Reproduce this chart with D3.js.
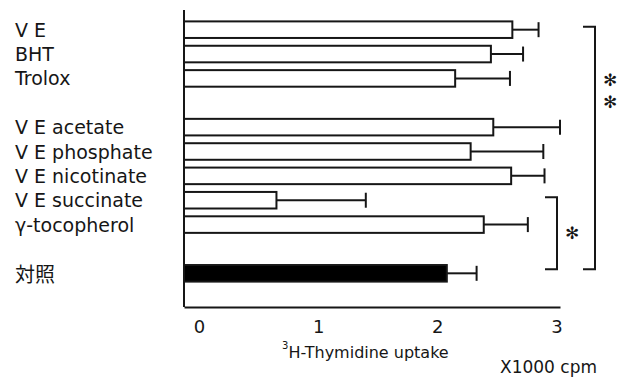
<!DOCTYPE html>
<html>
<head>
<meta charset="utf-8">
<script src="https://cdn.jsdelivr.net/npm/d3@7"></script>
<style>
  body { margin: 0; background: #fff; }
  svg { display: block; }
</style>
</head>
<body>
<div id="canvas"></div>
<script>
"use strict"

/* Data */
let categories = ["V E", "BHT", "Trolox", "V E acetate", "V E phosphate",
    "V E nicotinate", "V E succinate", "γ-tocopherol", "対照"];
let means  = [2.63, 2.45, 2.15, 2.47, 2.28, 2.62, 0.65, 2.39, 2.08];
let errors = [0.22, 0.27, 0.46, 0.56, 0.61, 0.28, 0.75, 0.37, 0.25];
// row order with two blank rows between the groups
let rowOrder = ["V E", "BHT", "Trolox", "_gap1", "V E acetate", "V E phosphate",
    "V E nicotinate", "V E succinate", "γ-tocopherol", "_gap2", "対照"];
let xTicks = [0, 1, 2, 3];
let controlName = "対照";
let bracketFrom = ["V E", "V E succinate"];
let bracketTo = ["対照", "対照"];
let bracketStars = [2, 1];

/* Drawing config */
let svgWidth = 631;
let svgHeight = 377;
let axisX = 184;
let axisTop = 10;
let axisBottomY = 307;
let ink = "#161616";

let svg = d3.select("#canvas")
    .append("svg")
    .attr("width", svgWidth)
    .attr("height", svgHeight);

svg.append("rect")
    .attr("width", svgWidth)
    .attr("height", svgHeight)
    .attr("fill", "#fff");

let dataset = categories.map(function(c, i) {
    return { name: c, mean: means[i], err: errors[i] };
});

// X scale: bars start at the axis line, which sits slightly left of the "0" label
let xScale = d3.scaleLinear()
    .domain([-0.126, 3.03])
    .range([axisX, 560]);

let yScale = d3.scaleBand()
    .domain(rowOrder)
    .range([17.5, 285.5])
    .paddingInner(0.32)
    .paddingOuter(0.16);

let bw = yScale.bandwidth();
let x0 = xScale(xScale.domain()[0]);

/* Bars */
svg.selectAll("rect.bar")
    .data(dataset)
    .join("rect")
    .attr("class", "bar")
    .attr("x", x0)
    .attr("y", function(d) { return yScale(d.name); })
    .attr("width", function(d) { return xScale(d.mean) - x0; })
    .attr("height", bw)
    .attr("fill", function(d) { return d.name === controlName ? "#000" : "#fff"; })
    .attr("stroke", ink)
    .attr("stroke-width", 2);

/* Error bars */
svg.selectAll("line.err")
    .data(dataset)
    .join("line")
    .attr("class", "err")
    .attr("x1", function(d) { return xScale(d.mean); })
    .attr("x2", function(d) { return xScale(d.mean + d.err); })
    .attr("y1", function(d) { return yScale(d.name) + bw / 2; })
    .attr("y2", function(d) { return yScale(d.name) + bw / 2; })
    .attr("stroke", ink)
    .attr("stroke-width", 2);

svg.selectAll("line.cap")
    .data(dataset)
    .join("line")
    .attr("class", "cap")
    .attr("x1", function(d) { return xScale(d.mean + d.err); })
    .attr("x2", function(d) { return xScale(d.mean + d.err); })
    .attr("y1", function(d) { return yScale(d.name) + bw / 2 - 7.5; })
    .attr("y2", function(d) { return yScale(d.name) + bw / 2 + 7.5; })
    .attr("stroke", ink)
    .attr("stroke-width", 2);

/* Axes */
svg.append("line")
    .attr("x1", axisX).attr("x2", axisX)
    .attr("y1", axisTop).attr("y2", axisBottomY)
    .attr("stroke", ink)
    .attr("stroke-width", 2);

let xAxis = svg.append("g")
    .attr("transform", "translate(0," + axisBottomY + ")")
    .call(d3.axisBottom(xScale)
        .tickValues(xTicks)
        .tickFormat(d3.format("d"))
        .tickSize(0)
        .tickPadding(13));

xAxis.select(".domain")
    .attr("stroke", ink)
    .attr("stroke-width", 2);

xAxis.selectAll("text")
    .style("font-family", "DejaVu Sans")
    .style("font-size", "18px")
    .attr("fill", ink);

/* Category labels */
svg.selectAll("text.cat")
    .data(dataset)
    .join("text")
    .attr("class", "cat")
    .attr("x", 15)
    .attr("y", function(d) { return yScale(d.name) + bw / 2; })
    .attr("dominant-baseline", "central")
    .style("font-family", function(d) {
        return d.name === controlName ? "Noto Sans CJK JP" : "DejaVu Sans";
    })
    .style("font-size", function(d) { return d.name === controlName ? "20px" : "19px"; })
    .attr("fill", ink)
    .text(function(d) { return d.name; });

/* Axis title */
let title = svg.append("text")
    .attr("x", 282)
    .attr("y", 358)
    .style("font-family", "DejaVu Sans")
    .style("font-size", "16px")
    .attr("fill", ink);
title.append("tspan")
    .attr("dy", -9)
    .style("font-size", "10px")
    .text("3");
title.append("tspan")
    .attr("dy", 9)
    .text("H-Thymidine uptake");

svg.append("text")
    .attr("x", 500)
    .attr("y", 373)
    .style("font-family", "DejaVu Sans")
    .style("font-size", "17px")
    .attr("fill", ink)
    .text("X1000 cpm");

/* Significance brackets */
let bracketRight = [595, 557];
let bracketWidth = 12;
let starGap = 22;
for (let i = 0; i < bracketFrom.length; i++) {
    let yTop = yScale(bracketFrom[i]) + bw / 2 - 3;
    let yBot = yScale(bracketTo[i]) + bw / 2 - 4;
    let xr = bracketRight[i];
    svg.append("path")
        .attr("d", "M" + (xr - bracketWidth) + "," + yTop + "H" + xr + "V" + yBot + "H" + (xr - bracketWidth))
        .attr("fill", "none")
        .attr("stroke", ink)
        .attr("stroke-width", 2);

    // single star is centred on the bracket; the stacked pair sits near the top
    let firstY = bracketStars[i] === 1 ? (yTop + yBot) / 2 : 80;
    for (let s = 0; s < bracketStars[i]; s++) {
        svg.append("text")
            .attr("x", xr + 15)
            .attr("y", firstY + s * starGap)
            .attr("text-anchor", "middle")
            .attr("dominant-baseline", "central")
            .style("font-family", "DejaVu Sans")
            .style("font-size", "17px")
            .attr("fill", ink)
            .text("✻");
    }
}
</script>
</body>
</html>
